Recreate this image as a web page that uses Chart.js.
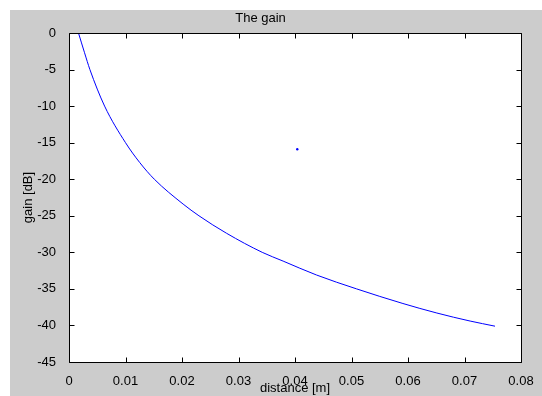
<!DOCTYPE html>
<html>
<head>
<meta charset="utf-8">
<title>The gain</title>
<script src="https://cdn.jsdelivr.net/npm/chart.js@4.4.1/dist/chart.umd.min.js"></script>
<style>
  html, body { margin: 0; padding: 0; background: #fff; }
  #gainChart { display: block; }
</style>
</head>
<body>
<canvas id="gainChart" width="542" height="396"></canvas>
<script>
// values
const distance = [0.00168, 0.00275, 0.0037, 0.0063, 0.0100, 0.0125, 0.0151, 0.0202, 0.0230,
  0.0279, 0.0342, 0.0379, 0.0438, 0.0509, 0.0591, 0.0651, 0.0710, 0.0754];
const gain = [0, -2.7, -5.0, -10.0, -15.0, -17.7, -20.0, -23.4, -25.0,
  -27.4, -30.0, -31.2, -33.1, -35.0, -37.0, -38.3, -39.4, -40.1];
const dotX = [0.0404];
const dotY = [-15.9];

const xTickLabels = ["0", "0.01", "0.02", "0.03", "0.04", "0.05", "0.06", "0.07", "0.08"];
const yTickLabels = ["-45", "-40", "-35", "-30", "-25", "-20", "-15", "-10", "-5", "0"];

const FONT = "Arial, 'Liberation Sans', sans-serif";

// grey figure, white axes box, inward ticks on all four sides
const matlabBox = {
  id: "matlabBox",
  beforeDraw(chart) {
    const { ctx, chartArea: a } = chart;
    ctx.save();
    ctx.fillStyle = "#cccccc";
    ctx.fillRect(10, 10, chart.width - 10, chart.height - 10);
    ctx.fillStyle = "#ffffff";
    ctx.fillRect(a.left, a.top, a.right - a.left, a.bottom - a.top);
    ctx.restore();
  },
  afterDraw(chart) {
    const { ctx, chartArea: a, scales: { x, y } } = chart;
    const L = Math.round(a.left) + 0.5, R = Math.round(a.right) + 0.5;
    const T = Math.round(a.top) + 0.5, B = Math.round(a.bottom) + 0.5;
    ctx.save();
    ctx.strokeStyle = "#000";
    ctx.lineWidth = 1;
    ctx.beginPath();
    ctx.rect(L, T, R - L, B - T);
    x.ticks.forEach(t => {
      const px = Math.round(x.getPixelForValue(t.value)) + 0.5;
      ctx.moveTo(px, B); ctx.lineTo(px, B - 5);
      ctx.moveTo(px, T); ctx.lineTo(px, T + 5);
    });
    y.ticks.forEach(t => {
      const py = Math.round(y.getPixelForValue(t.value)) + 0.5;
      ctx.moveTo(L, py); ctx.lineTo(L + 5, py);
      ctx.moveTo(R, py); ctx.lineTo(R - 5, py);
    });
    ctx.stroke();
    ctx.restore();
  }
};

new Chart(document.getElementById("gainChart"), {
  type: "scatter",
  data: {
    datasets: [
      {
        data: distance.map((d, i) => ({ x: d, y: gain[i] })),
        showLine: true,
        borderColor: "#0000ff",
        borderWidth: 1,
        pointRadius: 0,
        cubicInterpolationMode: "monotone"
      },
      {
        data: dotX.map((d, i) => ({ x: d, y: dotY[i] })),
        pointRadius: 1.2,
        pointBackgroundColor: "#0000ff",
        pointBorderWidth: 0
      }
    ]
  },
  options: {
    responsive: false,
    animation: false,
    devicePixelRatio: 1,
    layout: { padding: { left: 0, top: 10, right: 21, bottom: 0 } },
    plugins: {
      legend: { display: false },
      tooltip: { enabled: false },
      title: {
        display: true,
        text: "The gain",
        color: "#000",
        font: { family: FONT, size: 13, weight: "normal" },
        padding: { top: 1, bottom: 6.4 }
      }
    },
    scales: {
      x: {
        type: "linear",
        min: 0,
        max: 0.08,
        grid: { display: false },
        border: { display: false },
        ticks: {
          stepSize: 0.01,
          color: "#000",
          padding: 4,
          maxRotation: 0,
          font: { family: FONT, size: 13 },
          callback: (v, i) => xTickLabels[i]
        },
        title: {
          display: true,
          text: "distance [m]",
          color: "#000",
          font: { family: FONT, size: 13 },
          padding: { top: 0, bottom: 0 }
        },
        afterFit: s => { s.height = 34; }
      },
      y: {
        type: "linear",
        min: -45,
        max: 0,
        grid: { display: false },
        border: { display: false },
        ticks: {
          stepSize: 5,
          color: "#000",
          padding: 5,
          font: { family: FONT, size: 13 },
          callback: (v, i) => yTickLabels[i]
        },
        title: {
          display: true,
          text: "gain [dB]",
          color: "#000",
          font: { family: FONT, size: 13 },
          padding: { top: 21, bottom: 0 }
        },
        afterFit: s => { s.width = 69; }
      }
    }
  },
  plugins: [matlabBox]
});
</script>
</body>
</html>
